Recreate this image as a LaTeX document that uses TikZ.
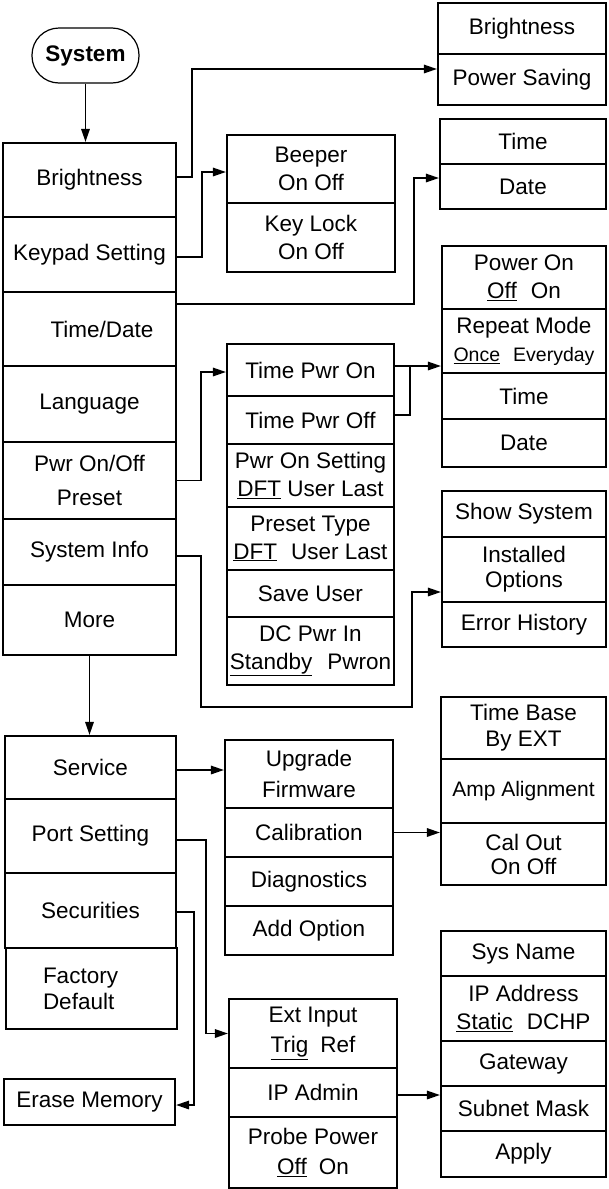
\documentclass[tikz,border=0pt]{standalone}
\usepackage{fontspec}
\setmainfont{Liberation Sans}
\usetikzlibrary{arrows.meta,calc}
\newcommand{\mybox}[7]{%
  \pgfmathsetmacro\bcx{(#3+#5)/2}%
  \pgfmathsetmacro\bcy{(#4+#6)/2}%
  \pgfmathsetmacro\bw{#5-#3}%
  \pgfmathsetmacro\bh{#6-#4}%
  \node[box,minimum width=\bw pt,minimum height=\bh pt,#1] (#2) at (\bcx,\bcy) {#7};%
}
\begin{document}
\begin{tikzpicture}[x=1pt,y=-1pt,
  box/.style={draw,line width=2.2pt,align=center,inner sep=1pt,font=\fontsize{22.5}{28}\selectfont},
  conn/.style={line width=1.6pt},
  arr/.style={line width=1.6pt,-{Triangle[length=13pt,width=8.5pt]}},
]
\useasboundingbox (0,0) rectangle (608,1189);

\node[draw,line width=1.2pt,rounded corners=27pt,minimum width=107pt,minimum height=55pt,inner sep=0pt,font=\bfseries\fontsize{22.5}{28}\selectfont] (sys) at (85.5,55.5) {System};

% left column
\mybox{}{lbri}{3}{143}{176}{217}{Brightness}
\mybox{}{lkey}{3}{217}{176}{292}{Keypad Setting}
\mybox{}{ltd}{3}{292}{176}{366}{\hspace*{25pt}Time/Date}
\mybox{}{llang}{3}{366}{176}{442}{Language}
\mybox{}{lpwr}{3}{442}{176}{519}{Pwr On/Off\\[6pt]Preset}
\mybox{}{linfo}{3}{519}{176}{585}{System Info}
\mybox{}{lmore}{3}{585}{176}{655}{More}

% keypad
\mybox{}{beep}{227}{135}{395}{203}{Beeper\\On Off}
\mybox{}{klock}{227}{203}{395}{272}{Key Lock\\On Off}

% brightness / time-date
\mybox{}{rbri}{438}{3}{606}{54}{Brightness}
\mybox{}{rps}{438}{54}{606}{105}{Power Saving}
\mybox{}{rtime}{440}{119}{606}{164}{Time}
\mybox{}{rdate}{440}{164}{606}{209}{Date}

% power on group
\mybox{}{pon}{442}{246}{606}{309}{Power On\\\underline{Off}\hspace{14pt}On}
\mybox{}{prep}{442}{309}{606}{373}{Repeat Mode\\{\fontsize{19.5}{28}\selectfont\underline{Once}\hspace{13pt}Everyday}}
\mybox{}{ptime}{442}{373}{606}{419}{Time}
\mybox{}{pdate}{442}{419}{606}{467}{Date}

% middle column
\mybox{}{mon}{227}{344}{394}{396}{Time Pwr On}
\mybox{}{moff}{227}{396}{394}{444}{Time Pwr Off}
\mybox{}{mset}{227}{444}{394}{507}{Pwr On Setting\\\underline{DFT} User Last}
\mybox{}{mtype}{227}{507}{394}{570}{Preset Type\\\underline{DFT}\hspace{14pt}User Last}
\mybox{}{msave}{227}{570}{394}{617}{Save User}
\mybox{}{mdc}{227}{617}{394}{685}{DC Pwr In\\\underline{Standby}\hspace{15pt}Pwron}

% system info group
\mybox{}{sshow}{442}{491}{606}{537}{Show System}
\mybox{}{sinst}{442}{537}{606}{602}{Installed\\[-3pt]Options}
\mybox{}{serr}{442}{602}{606}{647}{Error History}

% lower left column
\mybox{}{serv}{5}{736}{176}{799}{Service}
\mybox{}{port}{5}{799}{176}{873}{Port Setting}
\mybox{}{secu}{5}{873}{176}{948}{Securities}
\mybox{align=left,text width=97pt,inner xsep=37pt}{fact}{6}{948}{177}{1029}{Factory\\[-2pt]Default}
\mybox{}{erase}{4}{1079}{175}{1125}{Erase Memory}

% service group
\mybox{}{upg}{225}{740}{393}{808}{Upgrade\\[3pt]Firmware}
\mybox{}{cal}{225}{808}{393}{857}{Calibration}
\mybox{}{diag}{225}{857}{393}{906}{Diagnostics}
\mybox{}{addo}{225}{906}{393}{955}{Add Option}

% calibration group
\mybox{}{tbase}{441}{697}{606}{759}{Time Base\\[-2pt]By EXT}
\mybox{}{amp}{441}{759}{606}{823}{{\fontsize{21}{28}\selectfont Amp Alignment}}
\mybox{}{calout}{441}{823}{606}{885}{Cal Out\\[-4pt]On Off}

% port setting group
\mybox{}{ext}{229}{999}{397}{1068}{Ext Input\\[2pt]\underline{Trig}\hspace{12pt}Ref}
\mybox{}{ipadm}{229}{1068}{397}{1117}{IP Admin}
\mybox{}{probe}{229}{1117}{397}{1188}{Probe Power\\[2pt]\underline{Off}\hspace{12pt}On}

% IP admin group
\mybox{}{sname}{441}{931}{606}{976}{Sys Name}
\mybox{}{ipaddr}{441}{976}{606}{1041}{IP Address\\\underline{Static}\hspace{14pt}DCHP}
\mybox{}{gate}{441}{1041}{606}{1086}{Gateway}
\mybox{}{subnet}{441}{1086}{606}{1131}{Subnet Mask}
\mybox{}{apply}{441}{1131}{606}{1177}{Apply}

% connectors
\draw[arr] (sys.south) -- (sys.south |- lbri.north);
\draw[arr] ([yshift=3pt]lbri.east) -- ++(15,0) |- ([yshift=10.5pt]rps.west);
\draw[arr] ([yshift=-2.5pt]lkey.east) -- ++(25,0) |- ([yshift=-3pt]beep.west);
\draw[arr] ([yshift=25pt]ltd.east) -- ++(237,0) |- ([yshift=8.5pt]rdate.west);
\draw[arr] (lpwr.east) -- ++(24,0) |- ([yshift=-2pt]mon.west);
\coordinate (monE) at ([yshift=4pt]mon.east);
\draw[arr] (monE) -- (monE -| prep.west);
\draw[conn] ([yshift=5pt]moff.east) -| ($(monE)+(15,0)$);
\draw[arr] ([yshift=-4pt]linfo.east) -- ++(24,0) -- ++(0,151) -| ($(sinst.west)+(-29,22.5)$) -- ($(sinst.west)+(0,22.5)$);
\draw[arr] (lmore.south) -- (lmore.south |- serv.north);
\coordinate (servE) at ([yshift=-2.5pt]serv.east);
\draw[arr] (servE) -- (servE -| upg.west);
\draw[arr] (cal.east) -- (cal.east -| calout.west);
\draw[arr] ([yshift=-4pt]port.east) -- ++(29,0) |- (ext.west);
\draw[arr] ([yshift=-1.5pt]secu.east) -- ++(17,0) |- ([yshift=-3pt]erase.east);
\coordinate (ipE) at ([yshift=-2.5pt]ipadm.east);
\draw[arr] (ipE) -- (ipE -| subnet.west);
\end{tikzpicture}
\end{document}
